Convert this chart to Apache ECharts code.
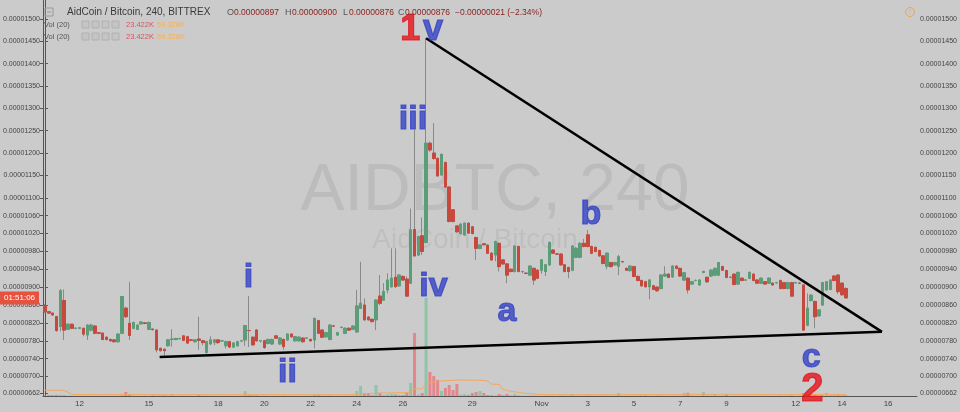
<!DOCTYPE html>
<html><head><meta charset="utf-8">
<script src="https://cdn.jsdelivr.net/npm/echarts@6/dist/echarts.min.js"></script>
<style>html,body{margin:0;padding:0;background:#cbcbcb;}#c{width:960px;height:412px;}</style>
</head><body><div id="c"></div>
<script>
// ---- AIDBTC 4h candles (prices in satoshi: 897 = 0.00000897 BTC) ----
const opens = [
859,845,842,834,812,870,806,817,808,808,
808,793,804,813,798,797,788,783,782,778,
797,853,819,808,806,818,820,806,806,804,
763,761,769,783,783,785,791,789,782,778,
784,780,754,773,777,782,780,769,778,766,
769,780,782,803,788,804,780,780,774,773,
791,773,783,782,795,780,780,786,786,783,
782,825,804,789,783,813,793,810,797,808,
806,800,853,860,833,828,827,880,871,894,
901,922,903,924,918,909,1029,972,1015,1000,
1222,1200,1188,1151,1179,1124,1073,1037,1020,1017,
1043,1035,1011,987,997,994,976,972,998,961,
952,940,935,991,935,931,927,942,938,938,
935,950,983,974,974,950,944,938,967,967,
998,1017,991,989,982,970,947,955,950,947,
957,942,937,946,924,915,912,901,903,900,
897,925,929,923,947,942,916,920,907,915,
905,933,922,925,927,927,946,937,922,929,
907,920,916,920,929,916,909,912,909,909,
910,915,910,897,910,910,909,905,815,870,
868,836,860,894,895,925,927,909,897];
const highs = [
862,847,843,836,896,895,819,818,810,810,
809,817,818,815,799,799,790,785,783,797,
880,856,912,823,817,824,821,823,808,806,
765,763,784,806,787,787,793,791,784,784,
834,782,780,790,784,784,782,780,780,777,
780,782,815,880,790,806,782,782,785,785,
793,788,785,797,797,791,790,788,788,785,
832,827,806,800,817,815,800,812,810,810,
815,894,957,875,835,830,873,927,909,931,
987,987,929,926,924,1076,1252,1015,1056,1457,
1226,1267,1190,1199,1181,1126,1075,1039,1043,1045,
1045,1037,1013,996,999,996,978,1004,1000,963,
954,942,994,993,937,933,949,944,940,963,
952,1002,985,976,976,952,946,994,989,1000,
1008,1028,993,991,984,972,978,957,957,972,
959,944,949,948,926,917,914,918,905,902,
929,947,931,949,949,944,934,922,914,917,
918,937,924,940,944,955,948,939,924,931,
935,922,918,935,931,918,922,914,922,911,
912,917,912,912,912,912,911,907,886,884,
870,851,912,914,918,927,929,911,900];
const lows = [
843,840,836,800,801,782,804,806,806,806,
790,782,801,795,795,781,781,778,776,776,
795,831,782,806,804,816,817,804,803,754,
756,745,767,767,781,783,779,773,779,776,
760,770,751,771,770,773,778,763,764,764,
767,777,769,766,769,778,776,762,772,771,
784,771,760,780,787,778,778,776,784,778,
763,795,786,787,781,811,791,808,795,802,
804,798,851,825,825,821,804,860,869,886,
899,899,901,914,878,907,968,970,972,998,
1203,1185,1147,1149,1122,1045,1045,1022,1018,1015,
1019,1018,961,985,993,974,959,958,935,950,
909,933,933,933,931,929,925,905,918,930,
925,948,974,972,948,933,920,936,965,965,
989,989,974,978,968,951,940,944,948,927,
955,936,935,922,913,901,899,873,893,890,
895,923,920,921,940,923,914,886,905,913,
903,931,910,923,925,925,936,920,920,904,
905,913,914,918,913,907,907,905,907,903,
908,895,895,895,878,908,907,802,813,868,
808,834,858,892,893,913,885,881,876];
const closes = [
845,842,838,803,892,804,817,808,808,809,
795,815,815,797,797,783,783,780,778,795,
879,834,792,821,815,822,819,821,805,760,
758,758,782,784,785,785,781,775,781,782,
781,776,778,782,782,776,780,778,766,775,
778,780,814,803,771,780,780,765,783,783,
786,786,767,795,789,789,788,778,786,780,
830,797,788,798,815,813,798,810,808,804,
813,858,864,827,827,823,871,864,890,916,
920,901,927,916,880,1028,970,1013,980,1222,
1207,1188,1149,1197,1124,1047,1047,1024,1041,1043,
1021,1020,987,994,995,976,961,1002,946,952,
927,935,992,935,935,931,947,916,920,961,
950,1000,976,974,950,935,935,992,987,998,
991,991,976,980,970,953,976,946,955,968,
957,938,947,924,915,903,901,916,895,892,
927,929,922,947,942,925,932,894,912,915,
916,935,912,938,942,955,938,922,922,906,
933,915,916,933,915,909,920,907,920,905,
910,897,897,910,880,910,909,804,853,882,
834,849,910,912,916,915,890,883,876];
// volume (K)
const volumes = [
20,40,35,45,50,30,15,10,8,10,
12,15,12,8,10,12,10,8,10,15,
30,160,40,15,10,8,12,10,25,15,
20,25,15,80,10,12,15,8,10,12,
30,12,20,15,10,8,10,12,10,12,
10,8,190,40,20,25,10,15,12,10,
8,12,15,12,10,12,10,8,10,10,
60,30,15,12,25,10,12,10,12,15,
20,200,400,120,120,30,440,120,40,60,
80,60,50,40,120,520,2520,60,120,3920,
960,800,640,200,320,440,240,480,60,80,
40,120,160,200,120,40,30,20,80,30,
80,20,80,20,15,12,20,15,10,12,
15,20,12,10,15,12,10,80,20,15,
12,20,15,10,12,15,20,10,12,120,
10,12,15,10,12,15,20,12,10,15,
20,12,10,15,12,10,120,130,15,12,
10,160,12,15,80,10,12,60,10,12,
15,10,12,15,10,12,15,10,12,10,
12,15,10,12,20,10,15,120,80,20,
30,15,25,120,30,20,25,20,23.422];
// Vol (20) moving average (K)
const volumeMA = [
230,230,228,228,225,225,150,80,60,60,
60,60,60,60,60,60,60,60,60,60,
60,62,62,62,62,62,62,62,62,62,
62,55,55,55,55,55,55,55,55,55,
55,55,55,55,55,55,55,55,55,55,
55,55,58,58,58,58,58,58,58,58,
58,58,58,58,55,55,55,55,55,55,
55,55,55,55,55,55,55,55,55,55,
56,65,85,90,95,95,115,120,120,122,
125,128,130,130,135,160,285,288,292,485,
530,565,595,600,612,620,625,640,636,636,
632,632,630,630,625,600,475,470,465,270,
225,190,165,150,120,100,90,80,70,62,
58,58,56,56,55,55,55,55,55,55,
55,55,55,55,55,55,55,55,55,58,
58,58,58,58,58,58,58,58,58,58,
58,58,58,58,58,58,60,62,62,62,
62,65,65,65,66,66,66,68,68,68,
66,66,64,62,62,62,60,60,60,60,
60,60,58,58,58,58,58,62,60,60,
60,60,60,62,62,62,60,60,59.328];
// price axis tick values and date ticks
const priceTicks = [1500,1450,1400,1350,1300,1250,1200,1150,1100,1060,1020,980,940,900,860,820,780,740,700,662];
const tickDates = ['2017-10-12 00:00','2017-10-15 00:00','2017-10-18 00:00','2017-10-20 00:00','2017-10-22 00:00','2017-10-24 00:00','2017-10-26 00:00','2017-10-29 00:00','2017-11-01 00:00','2017-11-03 00:00','2017-11-05 00:00','2017-11-07 00:00','2017-11-09 00:00','2017-11-12 00:00','2017-11-14 00:00','2017-11-16 00:00'];
const tickLabels = ['12','15','18','20','22','24','26','29','Nov','3','5','7','9','12','14','16'];
// drawn trend lines [candle slot, price]
const upperTrend = [[99, 1457], [217.4, 800]];
const lowerTrend = [[29.8, 744], [217.4, 800]];
// Elliott wave annotations
const waveLabels = ['1','v','iii','iv','i','ii','a','b','c','2'];
const waveX = [94.9,100.8,95.6,100.9,52.9,63.0,120.0,141.8,199.0,199.3];
const waveY = [1476,1476,1274,901,921,709,845,1062,742,669];
const lastPrice = 876;

// categories: 4h slots
const startTime = Date.UTC(2017, 9, 10, 12);
const slotCount = 227;
const categories = [];
for (let k = 0; k < slotCount; k++) {
  const d = new Date(startTime + k * 4 * 3600 * 1000);
  categories.push(d.toISOString().slice(0, 16).replace('T', ' '));
}
const tickMap = {};
tickDates.forEach((d, k) => { tickMap[d] = tickLabels[k]; });

const FONT = 'Liberation Sans';
const upColor = '#5c9d79', downColor = '#c7493e', wickColor = '#8a8a8a';
const volUp = '#8cc6a6', volDown = '#e3878d';
const waveBlue = '#3542c4', waveRed = '#e3141c';
const fmtPrice = v => (v / 1e8).toFixed(8);

const wickData = opens.map((o, k) => [o, closes[k], lows[k], highs[k]]);
const bodyData = opens.map((o, k) => [o, closes[k], Math.min(o, closes[k]), Math.max(o, closes[k])]);

const yBase = {
  type: 'value', min: 656.5, max: 1542.5, scale: true,
  splitLine: { show: false },
  axisLine: { show: true, lineStyle: { color: '#555', width: 1 } },
  axisTick: { show: true, length: 3, customValues: priceTicks, lineStyle: { color: '#555' } },
  axisLabel: { customValues: priceTicks, formatter: fmtPrice, fontSize: 7, color: '#444', fontFamily: FONT, margin: 3 }
};

const chart = echarts.init(document.getElementById('c'), null, { renderer: 'canvas' });
chart.setOption({
  animation: false,
  backgroundColor: '#cbcbcb',
  grid: { left: 41, right: 43, top: 0, bottom: 16 },
  xAxis: [
    { type: 'category', data: categories, boundaryGap: true,
      axisLine: { lineStyle: { color: '#555' } },
      axisTick: { alignWithLabel: true, length: 3, interval: (i, v) => tickMap[v] !== undefined, lineStyle: { color: '#555' } },
      axisLabel: { interval: (i, v) => tickMap[v] !== undefined, formatter: v => tickMap[v] || '', fontSize: 8, color: '#444', fontFamily: FONT, margin: 4 },
      splitLine: { show: false } },
    { type: 'value', min: -0.5, max: slotCount - 0.5, show: false }
  ],
  yAxis: [
    Object.assign({}, yBase, { position: 'right' }),
    Object.assign({}, yBase, { position: 'left' }),
    { type: 'value', min: 0, max: 15840, show: false }
  ],
  series: [
    { type: 'bar', xAxisIndex: 0, yAxisIndex: 2, data: volumes, barWidth: 3, silent: true, z: 1,
      itemStyle: { color: p => closes[p.dataIndex] >= opens[p.dataIndex] ? volUp : volDown } },
    { type: 'line', xAxisIndex: 0, yAxisIndex: 2, data: volumeMA, symbol: 'none', silent: true, z: 1,
      lineStyle: { color: '#f3a75c', width: 1 } },
    { type: 'candlestick', xAxisIndex: 0, yAxisIndex: 0, data: wickData, barWidth: 3, z: 3, silent: true,
      itemStyle: { color: wickColor, color0: wickColor, borderColor: wickColor, borderColor0: wickColor, borderWidth: 1 } },
    { type: 'candlestick', xAxisIndex: 0, yAxisIndex: 0, data: bodyData, barWidth: 3, z: 4, silent: true,
      itemStyle: { color: upColor, color0: downColor, borderColor: upColor, borderColor0: downColor, borderWidth: 1 } },
    { type: 'line', xAxisIndex: 1, yAxisIndex: 0, data: upperTrend, symbol: 'none', z: 5, silent: true,
      lineStyle: { color: '#000', width: 2.5 } },
    { type: 'line', xAxisIndex: 1, yAxisIndex: 0, data: lowerTrend, symbol: 'none', z: 5, silent: true,
      lineStyle: { color: '#000', width: 2.5 } },
    { type: 'scatter', xAxisIndex: 1, yAxisIndex: 0, symbolSize: 1, z: 6, silent: true,
      itemStyle: { color: 'transparent' },
      data: waveLabels.map((t, k) => {
        const isRed = (t === '1' || t === '2');
        const c = isRed ? waveRed : waveBlue;
        return {
          value: [waveX[k], waveY[k]],
          label: { show: true, position: 'inside', formatter: t, fontFamily: FONT, fontWeight: 'bold',
            fontSize: t === '2' ? 40 : (isRed || t === 'v' ? 36 : 34), color: c,
            textBorderColor: c, textBorderWidth: 1.2 }
        };
      }) }
  ]
});

const clockY = chart.convertToPixel({ yAxisIndex: 0 }, lastPrice);
const hdrIcons = (y) => [0, 1, 2, 3].map(k => ({ type: 'rect', shape: { x: 82 + k * 10, y: y - 3.5, width: 7, height: 7 },
  style: { fill: '#c4c4c4', stroke: '#b0b0b0', lineWidth: 1 }, z: 10 }));
const hdrText = (text, x, y, fill, size) => ({ type: 'text', z: 10, silent: true,
  style: { text: text, x: x, y: y, verticalAlign: 'middle', fill: fill, font: size + 'px "Liberation Sans"' } });
chart.setOption({
  graphic: [
    { type: 'text', style: { text: 'AIDBTC, 240', x: 495, y: 192, align: 'center', verticalAlign: 'middle', fill: '#bcbcbc', font: '66px "Liberation Sans"' }, z: -1, silent: true },
    { type: 'text', style: { text: 'AidCoin / Bitcoin', x: 475, y: 240, align: 'center', verticalAlign: 'middle', fill: '#bfbfbf', font: '28px "Liberation Sans"' }, z: -1, silent: true },
    { type: 'rect', shape: { x: 45, y: 8, width: 8, height: 8 }, style: { fill: 'none', stroke: '#999', lineWidth: 1 }, z: 10 },
    { type: 'line', shape: { x1: 47, y1: 12, x2: 51, y2: 12 }, style: { stroke: '#999', lineWidth: 1 }, z: 10 },
    hdrText('AidCoin / Bitcoin, 240, BITTREX', 67, 12.5, '#3a3a3a', 10),
    hdrText('O', 227, 12.5, '#555', 9),
    hdrText(fmtPrice(opens[opens.length - 1]), 234, 12.5, '#8a2222', 8.5),
    hdrText('H', 285, 12.5, '#555', 9),
    hdrText(fmtPrice(highs[highs.length - 1]), 292, 12.5, '#8a2222', 8.5),
    hdrText('L', 343, 12.5, '#555', 9),
    hdrText(fmtPrice(lows[lows.length - 1]), 349, 12.5, '#8a2222', 8.5),
    hdrText('C', 398, 12.5, '#555', 9),
    hdrText(fmtPrice(closes[closes.length - 1]), 405, 12.5, '#8a2222', 8.5),
    hdrText('\u22120.00000021 (\u22122.34%)', 455, 12.5, '#8a2222', 8.5),
    hdrText('Vol (20)', 44, 24.5, '#555', 7.5),
    hdrText('Vol (20)', 44, 36.5, '#555', 7.5),
    ...hdrIcons(24.5), ...hdrIcons(36.5),
    hdrText('23.422K', 126, 24.5, '#e0505e', 7.5),
    hdrText('59.328K', 157, 24.5, '#f2b060', 7.5),
    hdrText('23.422K', 126, 36.5, '#e0505e', 7.5),
    hdrText('59.328K', 157, 36.5, '#f2b060', 7.5),
    { type: 'circle', shape: { cx: 910, cy: 12, r: 4.5 }, style: { fill: 'none', stroke: '#eea25a', lineWidth: 1 }, z: 10 },
    { type: 'text', style: { text: '!', x: 910, y: 12, align: 'center', verticalAlign: 'middle', fill: '#eea25a', font: '7px "Liberation Sans"' }, z: 10 },
    { type: 'rect', shape: { x: 0, y: clockY - 6.5, width: 39, height: 13 }, style: { fill: '#e5533f' }, z: 20 },
    { type: 'text', style: { text: '01:51:06', x: 19.5, y: clockY, align: 'center', verticalAlign: 'middle', fill: '#fff', font: '8px "Liberation Sans"' }, z: 21 }
  ]
});
</script></body></html>
